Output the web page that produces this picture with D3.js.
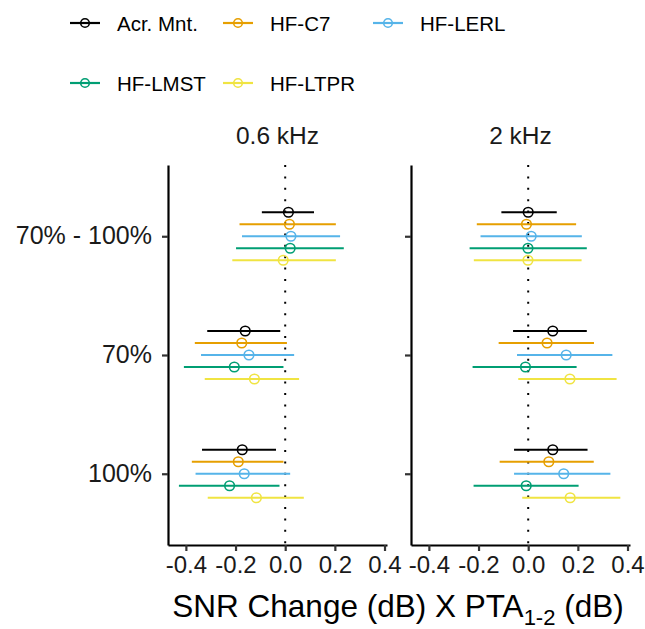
<!DOCTYPE html>
<html>
<head>
<meta charset="utf-8">
<script src="https://cdn.jsdelivr.net/npm/d3@7"></script>
<style>
  body { margin: 0; background: #fff; }
  svg { font-family: "Liberation Sans", Arial, Helvetica, sans-serif; }
</style>
</head>
<body>
<svg id="chart" width="645" height="629"></svg>
<script>
const groups = ["70% - 100%", "70%", "100%"];
const panels = ["0.6 kHz", "2 kHz"];
const series = ["Acr. Mnt.", "HF-C7", "HF-LERL", "HF-LMST", "HF-LTPR"];
const colors = ["#000000", "#E69F00", "#56B4E9", "#009E73", "#F0E442"];
const xTicks = [-0.4, -0.2, 0.0, 0.2, 0.4];

// 0.6 kHz panel: rows = series, cols = groups
const est06 = [
  [0.013, -0.161, -0.173],
  [0.017, -0.175, -0.189],
  [0.023, -0.146, -0.165],
  [0.020, -0.205, -0.224],
  [-0.008, -0.124, -0.116]
];
const lo06 = [
  [-0.094, -0.314, -0.335],
  [-0.184, -0.364, -0.376],
  [-0.174, -0.339, -0.361],
  [-0.198, -0.408, -0.428],
  [-0.213, -0.324, -0.312]
];
const hi06 = [
  [0.116, -0.020, -0.037],
  [0.204, 0.007, -0.007],
  [0.221, 0.036, 0.020],
  [0.236, -0.007, -0.023],
  [0.204, 0.056, 0.075]
];

// 2 kHz panel
const est2 = [
  [0.000, 0.099, 0.099],
  [-0.007, 0.076, 0.083],
  [0.012, 0.153, 0.143],
  [-0.001, -0.011, -0.008],
  [-0.001, 0.168, 0.169]
];
const lo2 = [
  [-0.108, -0.061, -0.057],
  [-0.207, -0.119, -0.115],
  [-0.192, -0.045, -0.057],
  [-0.236, -0.224, -0.220],
  [-0.219, -0.040, -0.024]
];
const hi2 = [
  [0.115, 0.236, 0.239],
  [0.193, 0.265, 0.264],
  [0.216, 0.339, 0.331],
  [0.236, 0.195, 0.203],
  [0.215, 0.356, 0.371]
];

const size = { top: 165, bottom: 545, panelW: 219, panelX: [168, 411] };
const svg = d3.select("#chart");

const y = d3.scalePoint().domain(groups).range([size.top, size.bottom]).padding(0.6);
const dodge = d3.scalePoint().domain(series).range([-24, 24]);

const panelData = [
  { est: est06, lo: lo06, hi: hi06 },
  { est: est2, lo: lo2, hi: hi2 }
];

panels.forEach(function(name, p) {
  const x0 = size.panelX[p];
  const x = d3.scaleLinear().domain([-0.472, 0.41]).range([x0, x0 + size.panelW]);
  const g = svg.append("g");
  const d = panelData[p];

  // strip label
  g.append("text")
    .attr("x", x0 + size.panelW / 2)
    .attr("y", 144)
    .attr("text-anchor", "middle")
    .attr("font-size", 24.5)
    .attr("fill", "#1a1a1a")
    .text(name);

  // reference line at zero
  g.append("line")
    .attr("x1", x(0)).attr("x2", x(0))
    .attr("y1", size.top).attr("y2", size.bottom)
    .attr("stroke", "#000")
    .attr("stroke-width", 2)
    .attr("stroke-dasharray", "2,9.4");

  const rows = [];
  series.forEach(function(s, i) {
    groups.forEach(function(gr, j) {
      rows.push({ s: s, i: i, g: gr, est: d.est[i][j], lo: d.lo[i][j], hi: d.hi[i][j] });
    });
  });

  g.selectAll("line.err").data(rows).join("line")
    .attr("class", "err")
    .attr("x1", r => x(r.lo)).attr("x2", r => x(r.hi))
    .attr("y1", r => y(r.g) + dodge(r.s)).attr("y2", r => y(r.g) + dodge(r.s))
    .attr("stroke", r => colors[r.i])
    .attr("stroke-width", 2.2);

  g.selectAll("circle.pt").data(rows).join("circle")
    .attr("class", "pt")
    .attr("cx", r => x(r.est))
    .attr("cy", r => y(r.g) + dodge(r.s))
    .attr("r", 4.8)
    .attr("fill", "none")
    .attr("stroke", r => colors[r.i])
    .attr("stroke-width", 1.6);

  // y axis
  const ya = g.append("g")
    .attr("transform", `translate(${x0}, 0)`)
    .call(d3.axisLeft(y).tickSize(6).tickSizeOuter(0).tickPadding(10)
      .tickFormat(p === 0 ? (t => t) : (() => "")));
  ya.select(".domain").attr("stroke", "#000").attr("stroke-width", 2.2);
  ya.selectAll(".tick line").attr("stroke", "#333").attr("stroke-width", 2.2);
  ya.selectAll(".tick text").attr("font-size", 25).attr("fill", "#1a1a1a")
    .attr("font-family", null).attr("dy", "0.3em");

  // x axis
  const xa = g.append("g")
    .attr("transform", `translate(0, ${size.bottom})`)
    .call(d3.axisBottom(x).tickValues(xTicks).tickSize(6).tickSizeOuter(0).tickPadding(5)
      .tickFormat(t => t.toFixed(1)));
  xa.select(".domain").attr("stroke", "#000").attr("stroke-width", 2.2);
  xa.selectAll(".tick line").attr("stroke", "#333").attr("stroke-width", 2.2);
  xa.selectAll(".tick text").attr("font-size", 24).attr("fill", "#1a1a1a")
    .attr("font-family", null).attr("dy", "0.71em");
});

// axis title
const title = svg.append("text")
  .attr("x", 398)
  .attr("y", 617)
  .attr("text-anchor", "middle")
  .attr("font-size", 31.5)
  .attr("fill", "#000");
title.append("tspan").text("SNR Change (dB) X PTA");
title.append("tspan").attr("font-size", 22).attr("dy", 8).text("1-2");
title.append("tspan").attr("dy", -8).text(" (dB)");

// legend
const legendX = [70, 223, 373];
const legendY = [23, 83];
const legend = svg.append("g");
series.forEach(function(s, i) {
  const lx = legendX[i % 3];
  const ly = legendY[Math.floor(i / 3)];
  const item = legend.append("g").attr("transform", `translate(${lx}, ${ly})`);
  item.append("line")
    .attr("x1", 0).attr("x2", 30)
    .attr("y1", 0).attr("y2", 0)
    .attr("stroke", colors[i]).attr("stroke-width", 2.2);
  item.append("circle")
    .attr("cx", 15).attr("cy", 0).attr("r", 4.3)
    .attr("fill", "none")
    .attr("stroke", colors[i]).attr("stroke-width", 1.6);
  item.append("text")
    .attr("x", 47).attr("y", 8)
    .attr("font-size", 20.5)
    .attr("fill", "#000")
    .text(s);
});
</script>
</body>
</html>
